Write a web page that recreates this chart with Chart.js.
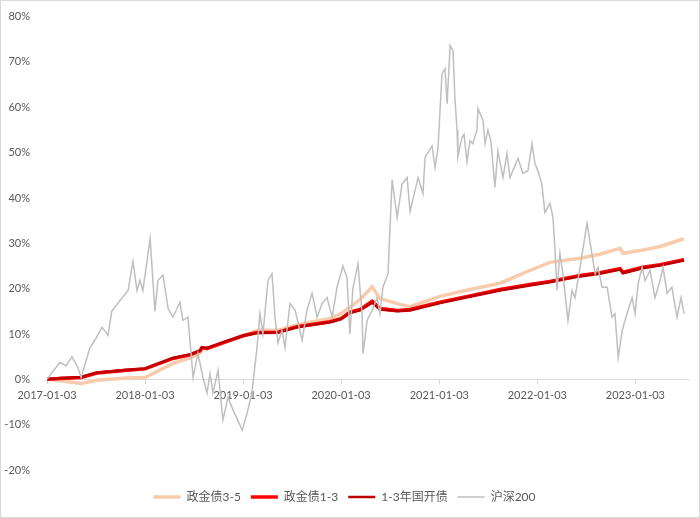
<!DOCTYPE html>
<html lang="zh">
<head>
<meta charset="UTF-8">
<title>政金债与沪深200累计收益</title>
<script src="https://cdn.jsdelivr.net/npm/chart.js@4.4.0/dist/chart.umd.min.js"></script>
<style>
  body { margin: 0; background: #fff; }
  #wrap { box-sizing: border-box; width: 700px; height: 518px; border: 1px solid #d9d9d9; }
</style>
</head>
<body>
<div id="wrap"><canvas id="myChart"></canvas></div>
<script>
// x axis labels (one per year)
const tickLabels = ['2017-01-03', '2018-01-03', '2019-01-03', '2020-01-03', '2021-01-03', '2022-01-03', '2023-01-03'];

// bond indices, cumulative return %
const bondDates = ['2017-01-03', '2017-02-20', '2017-05-10', '2017-07-08', '2017-10-28', '2018-01-03', '2018-04-17',
    '2018-06-19', '2018-07-27', '2018-08-03', '2018-08-22', '2018-11-15', '2019-01-03', '2019-02-24', '2019-05-13',
    '2019-07-23', '2019-11-23', '2020-01-03', '2020-02-05', '2020-03-14', '2020-04-28', '2020-05-27', '2020-07-30',
    '2020-09-16', '2021-01-05', '2021-04-27', '2021-08-17', '2021-12-06', '2022-02-19', '2022-06-11', '2022-08-24',
    '2022-11-07', '2022-11-18', '2023-01-31', '2023-04-05', '2023-07-03'];
const zjz35 = [0, -0.3, -0.9, -0.2, 0.3, 0.4, 3.5, 4.7, 5.8, 6.8, 6.7, 8.6, 9.6, 10.8, 10.8, 12.0, 13.4, 14.5,
    15.9, 17.6, 20.4, 17.8, 16.7, 16.0, 18.3, 19.8, 21.2, 24.0, 25.8, 26.7, 27.6, 28.9, 27.8, 28.5, 29.3, 31.0];
const zjz13 = [0, 0.2, 0.4, 1.4, 2.0, 2.3, 4.6, 5.4, 6.3, 7.0, 6.8, 8.6, 9.6, 10.3, 10.4, 11.6, 12.7, 13.4,
    14.8, 15.4, 17.2, 15.6, 15.2, 15.4, 17.0, 18.4, 19.8, 20.9, 21.6, 22.9, 23.5, 24.4, 23.6, 24.7, 25.3, 26.4];
const gkz13 = [0, 0.3, 0.5, 1.5, 2.1, 2.4, 4.7, 5.5, 6.4, 7.0, 6.9, 8.7, 9.6, 10.2, 10.3, 11.5, 12.6, 13.3,
    14.6, 15.2, 16.9, 15.4, 15.0, 15.2, 16.8, 18.2, 19.6, 20.7, 21.4, 22.7, 23.3, 24.2, 23.4, 24.5, 25.1, 26.2];

// equity index, cumulative return %
const csiDates = ['2017-01-03', '2017-01-22', '2017-02-20', '2017-03-15', '2017-04-06', '2017-04-28', '2017-05-10',
    '2017-06-12', '2017-07-04', '2017-07-27', '2017-08-18', '2017-09-01', '2017-10-02', '2017-11-01', '2017-11-19',
    '2017-12-04', '2017-12-15', '2017-12-26', '2018-01-22', '2018-02-09', '2018-02-20', '2018-03-11', '2018-03-30',
    '2018-04-17', '2018-05-13', '2018-05-24', '2018-06-12', '2018-07-01', '2018-07-19', '2018-08-07', '2018-08-22',
    '2018-09-02', '2018-09-13', '2018-10-02', '2018-10-20', '2018-11-08', '2018-11-27', '2018-12-31', '2019-01-18',
    '2019-02-05', '2019-02-24', '2019-03-07', '2019-03-18', '2019-04-06', '2019-04-21', '2019-05-02', '2019-05-13',
    '2019-05-28', '2019-06-08', '2019-06-27', '2019-07-16', '2019-08-11', '2019-08-29', '2019-09-17', '2019-10-06',
    '2019-10-24', '2019-11-12', '2019-12-01', '2019-12-19', '2020-01-10', '2020-01-25', '2020-02-05', '2020-02-16',
    '2020-03-06', '2020-03-21', '2020-03-25', '2020-04-09', '2020-04-28', '2020-05-16', '2020-05-27', '2020-06-07',
    '2020-06-26', '2020-07-11', '2020-07-30', '2020-08-17', '2020-09-05', '2020-09-16', '2020-10-16', '2020-11-03',
    '2020-11-11', '2020-12-07', '2020-12-18', '2020-12-29', '2021-01-13', '2021-01-24', '2021-02-01', '2021-02-12',
    '2021-02-23', '2021-03-02', '2021-03-10', '2021-03-13', '2021-03-28', '2021-04-05', '2021-04-16', '2021-04-27',
    '2021-05-08', '2021-05-23', '2021-05-27', '2021-06-15', '2021-06-22', '2021-07-03', '2021-07-14', '2021-07-29',
    '2021-08-09', '2021-08-28', '2021-09-12', '2021-09-23', '2021-10-23', '2021-11-10', '2021-11-29', '2021-12-14',
    '2021-12-25', '2022-01-05', '2022-01-20', '2022-01-31', '2022-02-19', '2022-03-02', '2022-03-10', '2022-03-17',
    '2022-03-28', '2022-04-08', '2022-04-27', '2022-05-12', '2022-05-23', '2022-06-11', '2022-07-07', '2022-07-25',
    '2022-08-06', '2022-08-17', '2022-09-01', '2022-09-20', '2022-10-08', '2022-10-19', '2022-10-31', '2022-11-15',
    '2022-12-03', '2022-12-22', '2023-01-02', '2023-01-13', '2023-01-28', '2023-02-08', '2023-02-27', '2023-03-17',
    '2023-04-05', '2023-04-16', '2023-05-01', '2023-05-19', '2023-06-07', '2023-06-22', '2023-07-03'];
const csi200 = [0, 1.5, 3.7, 3.0, 5.0, 2.6, 0.4,
    7.0, 9.0, 11.5, 9.7, 15.0, 17.4, 19.6, 26.0,
    19.6, 21.8, 19.6, 31.0, 15.0, 21.8, 23.0, 15.6,
    13.7, 17.0, 13.0, 13.7, 0.4, 5.7, 0.4, -3.0,
    1.3, -3.0, 2.0, -9.0, -4.0, -6.8, -11.2, -7.5,
    -3.0, 7.0, 14.5, 10.0, 21.8, 23.3, 13.7, 8.0,
    10.8, 7.0, 16.7, 15.2, 8.6, 15.2, 19.0, 13.7,
    16.7, 18.0, 13.7, 20.3, 25.0, 22.5, 10.0, 20.0,
    25.5, 14.5, 5.7, 13.0, 15.2, 18.0, 14.5, 20.3,
    23.3, 44.0, 35.7, 43.0, 44.5, 37.0, 44.5, 41.0,
    49.0, 51.5, 46.7, 51.0, 67.4, 68.5, 60.8, 73.6,
    72.5, 62.0, 55.0, 49.0, 53.3, 54.0, 48.0, 52.6,
    52.0, 55.0, 59.7, 57.0, 52.0, 55.0, 52.6, 42.3,
    50.4, 44.5, 49.8, 44.5, 48.7, 45.4, 46.0, 52.0,
    47.6, 46.0, 43.0, 36.8, 38.8, 35.7, 28.4, 19.6,
    27.8, 23.3, 13.0, 19.6, 18.0, 24.7, 34.4, 27.8,
    23.3, 24.7, 20.3, 20.3, 13.7, 14.5, 4.8, 10.8,
    14.5, 18.0, 14.5, 21.0, 24.7, 21.8, 24.0, 18.0,
    21.8, 24.7, 19.0, 20.3, 13.7, 18.0, 14.5];

const t0 = Date.parse('2017-01-03');
const toDay = d => (Date.parse(d) - t0) / 86400000;
const pts = (dates, vals) => dates.map((d, i) => ({ x: toDay(d), y: vals[i] }));

const font = "Lato, 'Noto Sans CJK SC', sans-serif";
const ctx = document.getElementById('myChart').getContext('2d');
new Chart(ctx, {
    type: 'line',
    data: {
        datasets: [
            { label: '政金债3-5', data: pts(bondDates, zjz35), borderColor: '#f8cbad', borderWidth: 3.5, order: 3 },
            { label: '政金债1-3', data: pts(bondDates, zjz13), borderColor: '#ff0000', borderWidth: 3.5, order: 2 },
            { label: '1-3年国开债', data: pts(bondDates, gkz13), borderColor: '#c00000', borderWidth: 2.5, order: 1 },
            { label: '沪深200', data: pts(csiDates, csi200), borderColor: '#bfbfbf', borderWidth: 1.5, order: 0 }
        ]
    },
    options: {
        responsive: true,
        maintainAspectRatio: false,
        animation: false,
        elements: { point: { radius: 0 }, line: { tension: 0 } },
        layout: { padding: { top: 15, right: 11, bottom: 4, left: 0 } },
        plugins: {
            tooltip: { enabled: false },
            legend: {
                position: 'bottom',
                title: { display: true, text: '', padding: { top: 10, bottom: 0 }, font: { size: 1, lineHeight: 1 } },
                labels: {
                    usePointStyle: true,
                    pointStyle: 'line',
                    pointStyleWidth: 27,
                    boxHeight: 12,
                    padding: 10,
                    color: '#595959',
                    font: { family: font, size: 12 },
                    sort: (a, b) => a.datasetIndex - b.datasetIndex
                }
            }
        },
        scales: {
            x: {
                type: 'linear',
                position: { y: 0 },
                min: 0,
                max: 2387,
                afterBuildTicks: s => { s.ticks = tickLabels.map(d => ({ value: toDay(d) })); },
                ticks: {
                    autoSkip: false,
                    maxRotation: 0,
                    padding: 6,
                    color: '#595959',
                    font: { family: font, size: 11 },
                    callback: (v, i) => tickLabels[i]
                },
                grid: { drawOnChartArea: false, drawTicks: true, tickLength: 4, color: '#d9d9d9' },
                border: { display: true, color: '#d9d9d9' }
            },
            y: {
                min: -20,
                max: 80,
                afterFit: s => { s.width = 46; },
                ticks: {
                    stepSize: 10,
                    padding: 9,
                    color: '#595959',
                    font: { family: font, size: 11 },
                    callback: v => v + '%'
                },
                grid: { display: false },
                border: { display: false }
            }
        }
    }
});
</script>
</body>
</html>
